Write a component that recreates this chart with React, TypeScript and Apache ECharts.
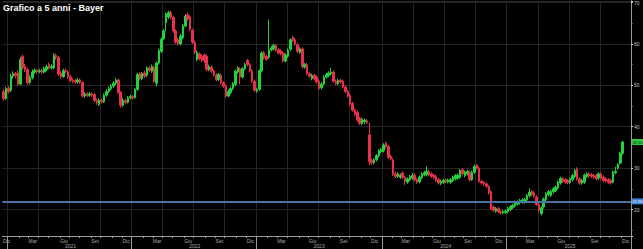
import React, { useEffect, useRef } from 'react';
import * as echarts from 'echarts';

const TITLE = 'Grafico a 5 anni - Bayer';
const FIRST_WEEK = '2020-12-14';
const AXIS_WEEKS = 263;
const MONTH_NAMES: Record<number, string> = { 2: 'Mar', 5: 'Giu', 8: 'Set', 11: 'Dic' };
const QUARTER_START_MONTHS = [0, 3, 6, 9];
const REF_LEVEL = 21.96;
const REF_LABEL = '21.96';

const opens = [
  48.5, 46.8, 49.3, 48.8, 52.2, 52.8, 53.0, 50.3, 57.0, 54.5, 53.8, 50.7, 51.8, 53.2, 53.6, 53.3, 53.6, 53.2, 53.8, 55.0,
  54.2, 54.2, 57.2, 56.8, 52.9, 52.1, 53.5, 53.2, 52.0, 51.2, 51.2, 50.8, 51.3, 50.7, 47.4, 47.9, 47.6, 47.9, 47.8, 46.3,
  45.4, 46.4, 46.0, 47.6, 48.5, 49.2, 49.8, 50.5, 51.3, 48.3, 45.2, 46.3, 45.9, 47.0, 47.3, 47.0, 49.0, 52.8, 51.6, 53.0,
  52.4, 54.2, 53.4, 54.3, 50.5, 55.4, 58.2, 61.3, 65.1, 66.5, 67.6, 66.4, 63.1, 61.0, 60.0, 61.5, 64.3, 67.0, 66.5, 63.3,
  60.4, 56.2, 57.6, 57.0, 57.3, 57.0, 53.8, 54.4, 53.4, 52.5, 51.4, 52.4, 50.6, 49.8, 47.4, 48.3, 49.2, 50.2, 53.2, 54.0,
  52.0, 54.0, 56.0, 55.0, 53.5, 51.0, 48.6, 49.0, 53.5, 57.9, 57.0, 56.8, 58.6, 58.8, 59.6, 58.6, 58.3, 57.8, 55.9, 57.0,
  58.7, 61.6, 61.0, 59.8, 58.0, 58.8, 54.4, 55.0, 52.8, 51.6, 52.4, 52.0, 51.0, 49.4, 50.3, 52.0, 52.4, 52.8, 53.2, 51.0,
  50.4, 51.2, 51.0, 49.6, 48.5, 47.6, 45.6, 44.0, 43.5, 42.0, 40.8, 41.2, 41.4, 38.0, 31.8, 31.3, 32.0, 33.0, 34.0, 34.2,
  36.0, 35.2, 32.8, 32.0, 28.6, 28.0, 27.8, 28.8, 27.8, 26.6, 27.2, 27.6, 28.3, 27.2, 26.7, 27.7, 28.4, 28.4, 29.2, 28.6,
  28.2, 28.0, 27.2, 26.3, 26.6, 27.1, 26.7, 26.6, 27.0, 27.4, 27.6, 27.8, 29.6, 28.2, 28.6, 29.0, 27.2, 29.0, 30.7, 30.0,
  26.8, 26.5, 26.2, 25.5, 24.3, 20.6, 19.6, 20.2, 19.4, 19.2, 19.3, 19.5, 20.0, 20.5, 20.9, 21.3, 21.6, 21.8, 21.8, 22.3,
  23.3, 24.3, 24.0, 23.0, 21.2, 19.0, 20.6, 22.4, 23.6, 23.4, 24.3, 24.6, 25.2, 26.4, 27.4, 27.2, 27.0, 26.5, 27.2, 28.0,
  29.8, 27.4, 26.4, 26.6, 28.0, 28.6, 28.4, 28.2, 28.2, 27.6, 28.6, 27.8, 27.4, 27.2, 27.0, 26.6, 28.9, 30.0, 31.2, 33.6,
];

const closes = [
  46.8, 49.2, 48.5, 52.2, 52.8, 52.3, 50.3, 56.2, 54.3, 53.8, 50.6, 51.8, 53.2, 53.6, 53.3, 53.5, 53.2, 54.0, 54.5, 54.2,
  54.6, 57.2, 56.8, 52.7, 52.1, 53.5, 53.4, 52.0, 51.2, 51.0, 50.8, 51.3, 50.7, 47.4, 47.9, 47.6, 47.9, 47.6, 46.3, 45.8,
  46.4, 46.0, 47.6, 48.5, 49.2, 49.8, 50.5, 51.3, 48.3, 45.2, 46.4, 45.9, 47.0, 47.3, 47.0, 49.0, 52.6, 51.6, 52.8, 52.2,
  54.2, 53.6, 54.5, 51.0, 55.4, 58.4, 61.1, 63.1, 67.2, 67.6, 66.4, 63.1, 60.4, 60.0, 61.9, 64.3, 66.7, 66.0, 63.5, 60.4,
  58.0, 57.9, 56.4, 56.0, 56.0, 53.8, 54.5, 53.4, 52.5, 51.4, 52.6, 50.6, 49.8, 47.4, 48.5, 49.2, 50.4, 53.4, 54.2, 52.0,
  54.0, 55.0, 55.0, 53.5, 51.0, 48.8, 48.9, 53.5, 57.8, 56.6, 56.3, 58.6, 59.0, 59.6, 58.5, 57.8, 57.6, 55.9, 57.3, 58.5,
  61.0, 60.8, 60.0, 58.2, 58.8, 54.5, 55.0, 52.8, 52.2, 52.4, 51.6, 50.8, 49.2, 50.3, 52.0, 52.6, 53.0, 53.2, 51.0, 50.4,
  51.2, 50.8, 49.6, 48.5, 47.4, 45.5, 44.0, 43.0, 41.6, 40.8, 41.8, 41.6, 41.0, 31.6, 31.3, 32.0, 33.0, 34.2, 34.4, 35.6,
  35.2, 32.6, 32.2, 28.5, 28.0, 28.6, 28.3, 27.8, 26.8, 27.4, 28.0, 28.2, 27.2, 26.6, 27.8, 28.6, 28.9, 29.2, 28.4, 28.0,
  27.7, 27.0, 26.4, 26.8, 27.0, 26.7, 27.1, 27.2, 27.8, 28.2, 28.3, 29.4, 28.6, 29.0, 29.2, 27.2, 29.0, 30.4, 30.0, 26.8,
  26.4, 26.1, 25.6, 24.0, 20.2, 19.8, 20.2, 19.5, 19.2, 19.5, 19.6, 20.2, 20.6, 21.0, 21.8, 21.8, 22.2, 22.3, 22.4, 23.4,
  24.2, 23.6, 23.2, 21.2, 19.8, 20.4, 22.5, 23.8, 24.3, 24.4, 25.0, 25.4, 26.6, 27.5, 26.8, 26.6, 26.5, 27.4, 28.2, 29.4,
  27.4, 26.4, 27.0, 28.3, 28.6, 28.1, 28.0, 27.8, 27.4, 28.6, 27.6, 27.0, 26.9, 26.6, 26.4, 29.0, 29.2, 30.8, 33.6, 36.3,
];

const highs = [
  49.0, 49.6, 49.8, 52.8, 53.4, 53.2, 53.6, 56.8, 57.4, 55.2, 54.2, 52.4, 53.8, 54.1, 54.0, 54.0, 54.0, 54.5, 55.0, 55.5,
  55.1, 57.8, 57.7, 57.1, 53.4, 54.0, 54.0, 53.6, 52.5, 51.7, 51.6, 51.8, 51.7, 51.0, 48.4, 48.3, 48.4, 48.3, 48.2, 46.8,
  46.9, 46.8, 48.0, 49.0, 49.7, 50.3, 51.0, 51.8, 51.6, 48.6, 46.9, 46.8, 47.4, 47.7, 47.6, 49.4, 53.0, 53.2, 53.2, 53.5,
  54.6, 54.7, 55.0, 54.8, 55.8, 58.9, 61.6, 63.6, 67.6, 68.0, 68.0, 66.8, 63.5, 61.5, 62.4, 64.8, 67.2, 67.5, 66.9, 63.7,
  60.8, 58.4, 58.0, 57.4, 57.7, 57.4, 55.0, 54.8, 53.8, 52.9, 53.0, 52.8, 51.0, 50.2, 49.0, 49.7, 50.8, 53.8, 54.6, 54.4,
  54.4, 55.4, 56.4, 55.4, 53.9, 51.4, 49.4, 53.9, 58.2, 58.3, 57.4, 65.9, 59.5, 60.0, 60.0, 59.0, 58.7, 58.2, 57.7, 58.9,
  61.4, 62.0, 61.4, 60.2, 59.2, 59.2, 55.4, 55.4, 53.2, 52.8, 52.8, 52.4, 51.4, 50.7, 52.4, 53.0, 53.4, 54.2, 53.6, 51.4,
  51.6, 51.6, 51.4, 50.0, 48.9, 48.0, 46.0, 44.4, 43.9, 42.4, 42.2, 42.0, 41.9, 41.0, 32.3, 32.4, 33.4, 34.6, 34.9, 36.0,
  36.4, 35.6, 33.2, 32.4, 29.2, 29.0, 28.7, 29.2, 28.2, 27.8, 28.4, 28.8, 28.7, 27.6, 28.2, 29.0, 29.3, 30.4, 29.6, 29.0,
  28.6, 28.4, 27.6, 27.2, 27.4, 27.5, 27.5, 27.6, 28.2, 28.6, 28.7, 29.8, 30.0, 29.4, 29.6, 29.4, 29.4, 30.8, 31.0, 30.4,
  27.2, 26.9, 26.6, 25.9, 24.6, 21.0, 20.6, 20.6, 19.8, 19.9, 20.0, 20.6, 21.0, 21.4, 22.2, 22.2, 22.6, 22.7, 22.8, 23.8,
  25.1, 24.7, 24.4, 23.4, 21.6, 20.8, 22.9, 24.2, 24.7, 24.8, 25.4, 25.8, 27.0, 27.9, 27.8, 27.6, 27.4, 27.8, 28.6, 29.8,
  30.2, 27.8, 27.4, 28.7, 29.0, 29.0, 28.8, 28.6, 28.6, 29.0, 29.0, 28.2, 27.8, 27.6, 27.4, 29.4, 30.3, 31.2, 34.0, 36.6,
];

const lows = [
  46.3, 46.5, 48.0, 48.4, 51.6, 51.7, 49.8, 50.0, 53.8, 53.2, 50.2, 50.2, 51.4, 52.8, 52.8, 52.9, 52.7, 52.9, 53.4, 53.8,
  53.8, 53.9, 56.2, 52.2, 51.6, 51.8, 52.9, 51.6, 50.8, 50.5, 50.4, 50.4, 50.3, 47.0, 47.0, 47.2, 47.2, 47.2, 45.9, 45.3,
  45.0, 45.6, 45.7, 47.2, 48.1, 48.8, 49.4, 50.1, 47.9, 44.6, 44.8, 45.4, 45.6, 46.6, 46.6, 46.8, 48.7, 51.2, 51.2, 51.8,
  52.0, 53.2, 53.0, 50.6, 49.7, 55.0, 57.8, 60.9, 63.0, 66.0, 65.9, 62.7, 60.0, 59.6, 59.6, 61.1, 64.0, 65.6, 63.1, 60.0,
  57.5, 55.8, 56.0, 55.6, 55.4, 53.4, 53.4, 53.0, 52.1, 51.0, 51.0, 50.2, 49.4, 47.0, 47.1, 47.9, 48.8, 49.8, 52.8, 50.2,
  51.6, 53.6, 54.6, 53.1, 50.6, 48.4, 48.2, 48.7, 53.1, 56.2, 55.9, 56.4, 58.2, 58.4, 58.1, 57.4, 57.2, 55.5, 55.5, 56.6,
  58.3, 60.4, 59.6, 57.8, 57.6, 54.1, 54.0, 52.4, 51.8, 51.2, 51.2, 50.4, 48.8, 49.0, 50.0, 51.6, 52.0, 52.4, 50.6, 50.0,
  50.0, 50.4, 49.2, 48.1, 47.0, 45.1, 43.6, 42.6, 41.2, 40.4, 40.4, 40.6, 40.6, 30.7, 30.8, 30.9, 31.6, 32.6, 33.6, 33.8,
  34.8, 32.2, 31.8, 28.1, 27.6, 27.6, 27.4, 27.4, 25.9, 26.2, 26.8, 27.2, 26.8, 26.2, 26.3, 27.3, 28.0, 28.0, 28.0, 27.6,
  27.3, 26.6, 26.0, 25.9, 26.2, 26.3, 26.3, 26.2, 26.6, 27.0, 27.2, 27.4, 28.2, 27.8, 28.2, 26.8, 26.9, 28.6, 29.6, 26.4,
  26.0, 25.7, 25.2, 23.6, 19.8, 19.4, 19.2, 19.1, 18.8, 18.8, 18.9, 19.1, 19.6, 20.1, 20.5, 20.9, 21.2, 21.4, 21.4, 21.9,
  22.9, 23.2, 22.8, 20.8, 19.3, 18.6, 20.2, 22.0, 23.2, 23.0, 23.9, 24.2, 24.8, 26.0, 26.4, 26.2, 26.1, 26.1, 26.8, 27.6,
  27.0, 26.0, 26.0, 26.2, 27.6, 27.7, 27.6, 27.4, 27.0, 27.2, 27.2, 26.6, 26.5, 26.2, 26.0, 26.3, 28.5, 29.6, 30.8, 33.2,
];

const UP = '#22d33c';
const DOWN = '#e8304d';
const GRID = '#252525';
const AXIS = '#9a9a9a';
const FONT = 'Liberation Sans, Arial, sans-serif';

function weekStart(i: number): Date {
  const d = new Date(FIRST_WEEK + 'T00:00:00Z');
  d.setUTCDate(d.getUTCDate() + i * 7);
  return d;
}

const categories = Array.from({ length: AXIS_WEEKS }, (_, i) => weekStart(i).toISOString().slice(0, 10));

function monthStartIn(i: number): number {
  const d = weekStart(i);
  for (let k = 0; k < 7; k++) {
    const e = new Date(d.getTime());
    e.setUTCDate(d.getUTCDate() + k);
    if (e.getUTCDate() === 1) return e.getUTCMonth();
  }
  return -1;
}

const isQuarterLabel = (i: number) => i === 0 || MONTH_NAMES[monthStartIn(i)] !== undefined;
const isQuarterStart = (i: number) => QUARTER_START_MONTHS.indexOf(monthStartIn(i)) >= 0;

export default function App() {
  const ref = useRef<HTMLDivElement>(null);

  useEffect(() => {
    if (!ref.current) return;
    const chart = echarts.init(ref.current, undefined, { renderer: 'svg' });
    const candles = opens.map((o, i) => [o, closes[i], lows[i], highs[i]]);
    const last = closes[closes.length - 1];

    chart.setOption({
      animation: false,
      backgroundColor: '#000000',
      textStyle: { fontFamily: FONT },
      title: {
        text: TITLE,
        left: 3,
        top: 3,
        padding: 0,
        textStyle: { color: '#ffffff', fontSize: 9, fontWeight: 'bold', fontFamily: FONT },
      },
      grid: { left: 0, right: 12, top: 0, bottom: 13, containLabel: false },
      xAxis: [
        {
          type: 'category',
          data: categories,
          boundaryGap: true,
          axisLine: { show: true, lineStyle: { color: AXIS, width: 1 } },
          axisTick: { show: true, interval: (i: number) => monthStartIn(i) >= 0, length: 2, lineStyle: { color: AXIS } },
          axisLabel: {
            interval: (i: number) => isQuarterLabel(i),
            formatter: (_v: string, i: number) => (i === 0 ? 'Dic' : MONTH_NAMES[monthStartIn(i)] || ''),
            color: '#a8a8a8',
            fontSize: 5,
            margin: 2,
            padding: [0, 0, 0, 6],
          },
          splitLine: { show: true, interval: (i: number) => isQuarterStart(i), lineStyle: { color: GRID, width: 1 } },
        },
        {
          type: 'category',
          data: categories,
          position: 'bottom',
          boundaryGap: true,
          axisLine: { show: false },
          axisTick: { show: true, interval: (i: number) => monthStartIn(i) === 0, length: 13, lineStyle: { color: AXIS } },
          axisLabel: {
            interval: (i: number) => monthStartIn(i) === 6,
            formatter: (v: string) => v.slice(0, 4),
            color: '#a8a8a8',
            fontSize: 5,
            margin: 7,
          },
          splitLine: { show: false },
        },
      ],
      yAxis: {
        type: 'value',
        position: 'right',
        min: 13.6,
        max: 70.4,
        axisLine: { show: true, lineStyle: { color: AXIS, width: 1 } },
        axisTick: { show: true, length: 2, lineStyle: { color: '#d0d0d0' } },
        minorTick: { show: true, splitNumber: 2, length: 1.5, lineStyle: { color: '#909090' } },
        axisLabel: {
          formatter: (v: number) => (Math.abs(v % 10) < 1e-6 ? String(v) : ''),
          color: '#c4c4c4',
          fontSize: 5,
          margin: 3,
        },
        splitLine: { show: true, lineStyle: { color: GRID, width: 1 } },
      },
      series: [
        {
          type: 'candlestick',
          xAxisIndex: 0,
          data: candles,
          barWidth: '85%',
          itemStyle: { color: UP, color0: DOWN, borderColor: UP, borderColor0: DOWN, borderWidth: 1 },
          markLine: {
            symbol: 'none',
            silent: true,
            animation: false,
            data: [
              {
                yAxis: REF_LEVEL,
                lineStyle: { color: '#4a72a2', width: 2, type: 'solid' },
                label: {
                  show: true,
                  position: 'end',
                  distance: 1,
                  formatter: REF_LABEL,
                  backgroundColor: '#3b7fd6',
                  color: '#ffffff',
                  fontSize: 4,
                  padding: [1, 0.5],
                },
              },
              {
                yAxis: last,
                lineStyle: { color: 'rgba(0,0,0,0)', width: 0 },
                label: {
                  show: true,
                  position: 'end',
                  distance: 1,
                  formatter: last.toFixed(2),
                  backgroundColor: '#2ecc40',
                  color: '#0a2a0a',
                  fontSize: 4,
                  padding: [1, 0.5],
                },
              },
            ],
          },
        },
      ],
    });

    return () => chart.dispose();
  }, []);

  return <div ref={ref} style={{ position: 'fixed', left: 0, top: 0, width: 643, height: 249 }} />;
}
